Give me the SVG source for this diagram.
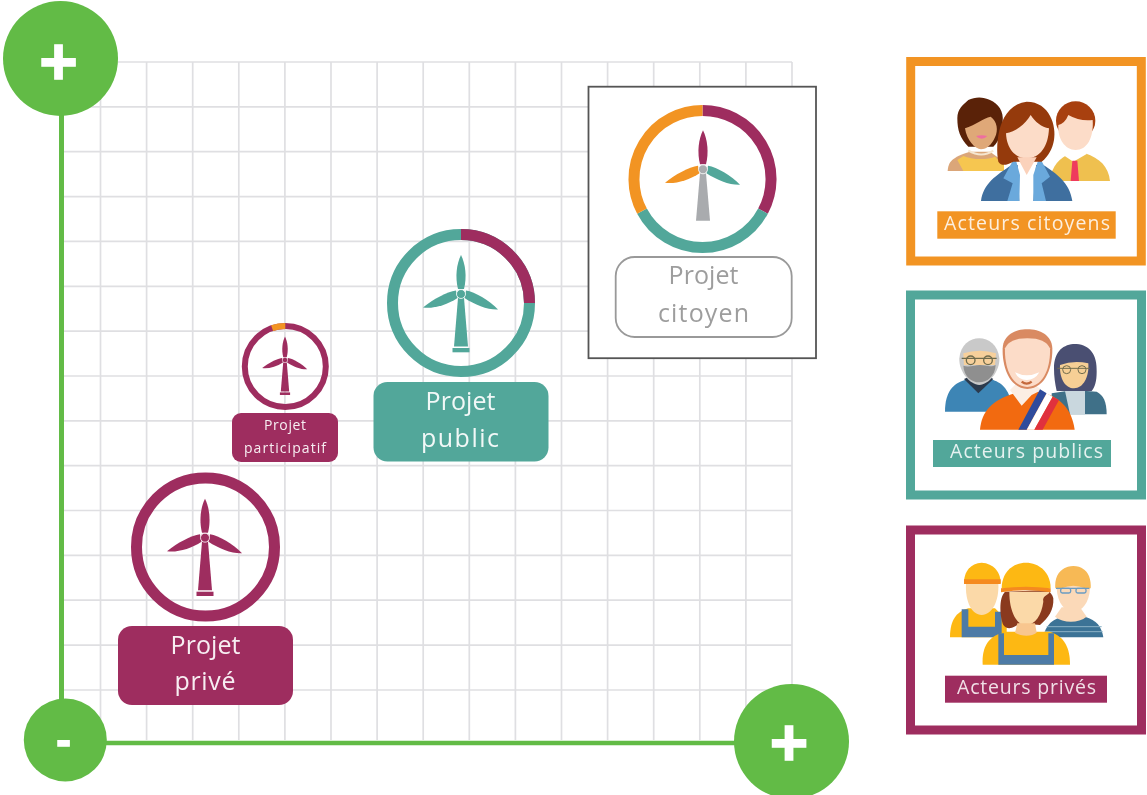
<svg xmlns="http://www.w3.org/2000/svg" width="1147" height="795" viewBox="0 0 1147 795">
<style>
text{font-family:"Open Sans","Liberation Sans",Arial,sans-serif;text-anchor:middle}
.grid line{stroke:#dfdfe2;stroke-width:1.7}
.axis{stroke:#62bb46;fill:none}
.pm{fill:#fff;font-family:"Liberation Sans",Arial,sans-serif;font-weight:700;font-size:66px;stroke:#fff;stroke-width:1.4}
.ring{fill:none;stroke-width:11}
.lbl{fill:#fff;font-size:25px;opacity:.92}
.act{fill:#fff;font-size:19.5px;opacity:.85}
.frame{fill:#fff;stroke-width:9}
</style>
<defs>
<filter id="soft" filterUnits="userSpaceOnUse" x="0" y="0" width="1147" height="795" color-interpolation-filters="sRGB"><feGaussianBlur stdDeviation="0.65"/></filter>
<path id="bu" d="M0,-39C4.5,-30 6,-17 3,-5L-3,-5C-6,-17 -4.5,-30 0,-39Z"/>
<path id="bl" d="M-38,13.5C-28,5 -14,-2 -5,-3.5L-3.5,4C-14,11 -28,15 -38,13.5Z"/>
<path id="br" d="M37,15.5C28,6 14,-2 5,-3.5L3.5,4C14,11 27,16 37,15.5Z"/>
<g id="turbine"><use href="#bu"/><use href="#bl"/><use href="#br"/><path d="M-3,4L3,4L7,52.5L-7,52.5Z"/><rect x="-8.5" y="54" width="17" height="4.3"/><circle r="4.5" stroke="#fff" stroke-width=".8"/></g>
</defs>
<rect width="1147" height="795" fill="#fff"/>
<g filter="url(#soft)">
<g id="grid" class="grid">
<line x1="100.5" y1="62" x2="100.5" y2="740"/><line x1="146.6" y1="62" x2="146.6" y2="740"/><line x1="192.7" y1="62" x2="192.7" y2="740"/><line x1="238.8" y1="62" x2="238.8" y2="740"/><line x1="284.9" y1="62" x2="284.9" y2="740"/><line x1="331" y1="62" x2="331" y2="740"/><line x1="377.1" y1="62" x2="377.1" y2="740"/><line x1="423.2" y1="62" x2="423.2" y2="740"/><line x1="469.3" y1="62" x2="469.3" y2="740"/><line x1="515.4" y1="62" x2="515.4" y2="740"/><line x1="561.5" y1="62" x2="561.5" y2="740"/><line x1="607.6" y1="62" x2="607.6" y2="740"/><line x1="653.7" y1="62" x2="653.7" y2="740"/><line x1="699.8" y1="62" x2="699.8" y2="740"/><line x1="745.9" y1="62" x2="745.9" y2="740"/><line x1="792" y1="62" x2="792" y2="740"/>
<line x1="62" y1="62" x2="792" y2="62"/><line x1="62" y1="106.9" x2="792" y2="106.9"/><line x1="62" y1="151.7" x2="792" y2="151.7"/><line x1="62" y1="196.6" x2="792" y2="196.6"/><line x1="62" y1="241.4" x2="792" y2="241.4"/><line x1="62" y1="286.3" x2="792" y2="286.3"/><line x1="62" y1="331.1" x2="792" y2="331.1"/><line x1="62" y1="376" x2="792" y2="376"/><line x1="62" y1="420.8" x2="792" y2="420.8"/><line x1="62" y1="465.7" x2="792" y2="465.7"/><line x1="62" y1="510.5" x2="792" y2="510.5"/><line x1="62" y1="555.4" x2="792" y2="555.4"/><line x1="62" y1="600.2" x2="792" y2="600.2"/><line x1="62" y1="645.1" x2="792" y2="645.1"/><line x1="62" y1="690" x2="792" y2="690"/>
</g>
<g id="connectors">
<line class="axis" x1="61.5" y1="100" x2="61.5" y2="720" stroke-width="5"/>
<line class="axis" x1="90" y1="743" x2="760" y2="743" stroke-width="4.5"/>
</g>
<g id="axis-y-plus"><circle cx="60.5" cy="58.5" r="57.5" fill="#62bb46"/><text class="pm" x="58.5" y="84">+</text></g>
<g id="axis-origin-minus"><circle cx="65.3" cy="740" r="41.5" fill="#62bb46"/><text class="pm" style="font-size:44px" x="63.5" y="755">-</text></g>
<g id="axis-x-plus"><circle cx="791.5" cy="741.5" r="57.5" fill="#62bb46"/><text class="pm" x="789" y="765">+</text></g>

<g id="projet-prive">
<circle class="ring" cx="205.5" cy="547" r="69" stroke="#9e2d5f"/>
<use href="#turbine" transform="translate(205,537.7)" fill="#9e2d5f"/>
<rect x="118" y="626" width="175" height="79" rx="14" fill="#9e2d5f"/>
<text class="lbl" x="205.5" y="654" textLength="70">Projet</text><text class="lbl" x="205" y="690" textLength="61">privé</text>
</g>
<g id="projet-participatif">
<circle cx="285.3" cy="366.5" r="40.5" fill="none" stroke="#9e2d5f" stroke-width="6"/>
<path d="M285.3,326A40.5,40.5 0 0 0 272.1,328.2" fill="none" stroke="#f29423" stroke-width="6"/>
<use href="#turbine" transform="translate(285,360) scale(.6)" fill="#9e2d5f"/>
<rect x="232" y="413" width="106" height="49" rx="9" fill="#9e2d5f"/>
<text class="lbl" style="font-size:14px" x="285" y="430" textLength="42">Projet</text><text class="lbl" style="font-size:14px" x="285" y="453" textLength="82">participatif</text>
</g>
<g id="projet-public">
<circle class="ring" cx="461" cy="303" r="68.5" stroke="#52a79a"/>
<path class="ring" d="M461,234.5A68.5,68.5 0 0 1 529.5,303" stroke="#9e2d5f"/>
<use href="#turbine" transform="translate(461,294)" fill="#52a79a"/>
<rect x="373.5" y="382" width="175" height="79.5" rx="14" fill="#52a79a"/>
<text class="lbl" x="460.5" y="410" textLength="70">Projet</text><text class="lbl" x="460" y="447" textLength="78">public</text>
</g>
<g id="projet-citoyen">
<rect x="588.5" y="86.7" width="227.5" height="271.5" fill="#fff" stroke="#555" stroke-width="1.8"/>
<path class="ring" d="M702.5,110.5A68.5,68.5 0 0 1 763,211.2" stroke="#9e2d5f"/>
<path class="ring" d="M763,211.2A68.5,68.5 0 0 1 642,211.2" stroke="#52a79a"/>
<path class="ring" d="M642,211.2A68.5,68.5 0 0 1 702.5,110.5" stroke="#f29423"/>
<g transform="translate(703,169.3)">
<use href="#bu" fill="#9e2d5f"/><use href="#bl" fill="#f29423"/><use href="#br" fill="#52a79a"/>
<path d="M-3,4L3,4L7,51.5L-7,51.5Z" fill="#a9abae"/><circle r="4.5" fill="#a9abae" stroke="#fff" stroke-width=".8"/>
</g>
<rect x="615.7" y="257" width="176" height="80" rx="19" fill="#fff" stroke="#999" stroke-width="1.8"/>
<text class="lbl" style="fill:#959595" x="703.5" y="284" textLength="70">Projet</text><text class="lbl" style="fill:#959595" x="703.5" y="322" textLength="91">citoyen</text>
</g>

<g id="acteurs-citoyens">
<rect class="frame" x="910.7" y="61.5" width="230.6" height="199.5" stroke="#f29423"/>
<g transform="translate(900,50) scale(.33333)">
<path d="M143,363C145,335 155,322 210,305L270,305L312,335L312,363Z" fill="#dba679"/>
<path d="M172,330L190,363L312,363L312,345L285,320C265,330 215,330 190,318Z" fill="#f6c650"/>
<path d="M172,205C172,175 190,165 205,150C225,140 250,140 270,150C295,160 312,185 308,215C305,245 300,270 280,290L205,290C180,265 172,240 172,205Z" fill="#5a2208"/>
<path d="M195,235C225,225 250,205 272,200C292,215 295,240 285,262C275,285 260,298 243,298C225,298 200,270 195,235Z" fill="#dfa878"/>
<path d="M228,258Q245,254 262,258Q245,275 228,258Z" fill="#ee6fa0"/>
<path d="M205,302Q245,325 280,302" fill="none" stroke="#f5e6d0" stroke-width="6"/>
<path d="M450,393C455,345 480,325 510,310L555,310C600,325 625,350 630,393Z" fill="#efc04f"/>
<path d="M485,312L520,335L560,312L555,298L495,298Z" fill="#fff"/>
<path d="M517,332L532,332L537,393L512,393Z" fill="#ef3a5d"/>
<ellipse cx="527" cy="212" rx="59" ry="58" fill="#a8400f"/>
<path d="M475,225Q495,220 505,195Q540,215 578,210C582,265 560,300 527,300C495,300 472,265 475,225Z" fill="#fcdcc8"/>
<path d="M243,453C250,400 290,375 335,345L430,345C470,370 510,400 517,453Z" fill="#3f6f9f"/>
<path d="M352,322L410,322L400,453L358,453Z" fill="#fff"/>
<path d="M345,320L360,375L358,453L322,453L338,400L310,385Z" fill="#6aa9dc"/>
<path d="M418,320L400,375L400,453L438,453L425,400L450,380Z" fill="#6aa9dc"/>
<path d="M295,335C285,280 295,165 380,155C450,155 470,230 462,270C458,295 445,320 425,335L340,335C320,345 305,350 295,335Z" fill="#953a0c"/>
<path d="M318,250C345,245 375,225 392,195C405,215 425,232 447,235C445,290 420,325 380,325C345,325 320,295 318,250Z" fill="#fcdcc8"/>
<path d="M352,322L410,322L380,375Z" fill="#fbd2bb"/>
</g>
<rect x="937.3" y="211.3" width="178.4" height="27.4" fill="#f29423"/>
<text class="act" x="1027" y="230" textLength="166">Acteurs citoyens</text>
</g>

<g id="acteurs-publics">
<rect class="frame" x="910.5" y="295" width="231" height="200" stroke="#52a79a" stroke-width="8.5"/>
<g transform="translate(900,285) scale(.33333)">
<path d="M135,380C135,320 160,295 195,285L280,285C305,295 330,310 340,380Z" fill="#3d85b5"/>
<path d="M192,282L235,325L280,282L262,272L215,272Z" fill="#2b3a4d"/>
<path d="M178,220C185,140 290,140 298,220C300,260 265,300 238,300C210,300 176,260 178,220Z" fill="#c9c9c9"/>
<path d="M190,205Q240,190 288,205L285,240L192,240Z" fill="#f7d09b"/>
<path d="M190,242C205,248 225,240 240,240C255,240 272,248 287,240C285,275 260,292 238,292C215,292 192,275 190,242Z" fill="#8f8f8f"/>
<path d="M185,220H290" stroke="#6f6b4c" stroke-width="4"/><circle cx="212" cy="226" r="13" fill="none" stroke="#6f6b4c" stroke-width="4"/><circle cx="264" cy="226" r="13" fill="none" stroke="#6f6b4c" stroke-width="4"/>
<path d="M455,325L520,315L590,320C610,330 620,350 620,388L455,388Z" fill="#3f7088"/>
<path d="M495,318L555,318L555,388L510,388Z" fill="#c9d7de"/>
<path d="M462,250C462,195 495,175 530,177C570,180 592,210 590,260C590,290 585,305 575,318L470,318C465,295 462,275 462,250Z" fill="#4a4f72"/>
<path d="M480,240Q520,225 565,235C568,275 550,310 522,310C495,310 478,280 480,240Z" fill="#f6cf95"/>
<path d="M472,250H570" stroke="#6f6b4c" stroke-width="3"/><circle cx="500" cy="254" r="12" fill="none" stroke="#6f6b4c" stroke-width="3"/><circle cx="546" cy="254" r="12" fill="none" stroke="#6f6b4c" stroke-width="3"/>
<path d="M240,434C245,380 275,345 345,325L420,320C480,335 515,370 524,434Z" fill="#f26a10"/>
<path d="M330,315L365,362L395,330L425,315L400,295L350,295Z" fill="#fbeee4"/>
<path d="M420,313L355,434L380,434L440,325Z" fill="#2f4b9c"/>
<path d="M440,325L380,434L403,434L458,335Z" fill="#fff"/>
<path d="M458,335L403,434L428,434L477,345Z" fill="#e0313d"/>
<path d="M308,190C310,150 345,133 382,133C420,133 455,150 457,190C458,240 440,310 382,312C325,310 306,240 308,190Z" fill="#d98a62"/>
<path d="M315,190C325,170 345,160 382,160C420,160 440,170 450,190C452,240 435,304 382,306C330,304 313,240 315,190Z" fill="#fcdcc8"/>
<path d="M345,262Q380,280 418,262Q405,285 380,285Q355,285 345,262Z" fill="#fff"/>
<path d="M365,290Q380,302 395,290" fill="none" stroke="#c4693c" stroke-width="7"/>
</g>
<rect x="933" y="440" width="178" height="27" fill="#52a79a"/>
<text class="act" x="1026.5" y="458" textLength="153">Acteurs publics</text>
</g>

<g id="acteurs-prives">
<rect class="frame" x="910.5" y="530" width="231" height="200" stroke="#9e2d5f" stroke-width="8.5"/>
<g transform="translate(900,520) scale(.33333)">
<path d="M150,352C150,300 170,275 205,265L285,265L320,300L320,352Z" fill="#fdb813"/>
<path d="M185,268L205,268L205,320L285,320L285,275L305,275L305,352L185,352Z" fill="#4d7ba6"/>
<path d="M198,190L295,190C298,245 275,285 245,285C215,285 195,245 198,190Z" fill="#fbd9a8"/>
<path d="M192,190C192,150 215,130 245,128C280,130 302,155 302,190Z" fill="#fdb813"/>
<path d="M192,178H302V192H192Z" fill="#f58a1f"/>
<path d="M430,352C435,315 460,295 490,290L555,290C590,300 605,320 610,352Z" fill="#3c7396"/>
<path d="M440,320H605M435,335H608" stroke="#8db3c8" stroke-width="3"/>
<path d="M465,290C490,310 535,310 560,290L540,262L485,262Z" fill="#fbd9b8"/>
<path d="M470,205C470,170 490,140 520,140C555,140 572,170 570,205C568,250 545,275 520,275C495,275 472,250 470,205Z" fill="#fbd9b8"/>
<path d="M466,205C462,160 490,138 520,138C555,138 575,165 572,205L555,205Q520,190 485,205Z" fill="#f7b955"/>
<path d="M468,205H568" stroke="#6b9cc2" stroke-width="4"/><rect x="482" y="205" width="30" height="14" rx="5" fill="none" stroke="#6b9cc2" stroke-width="4"/><rect x="528" y="205" width="30" height="14" rx="5" fill="none" stroke="#6b9cc2" stroke-width="4"/>
<path d="M248,434C245,380 265,345 320,335L450,335C495,350 510,385 510,434Z" fill="#fdb813"/>
<path d="M295,340L312,340L312,405L445,405L445,340L462,340L462,434L295,434Z" fill="#4d7ba6"/>
<path d="M315,215C295,235 300,290 310,315C325,335 345,320 360,310L420,315C445,295 462,270 460,235C458,225 450,215 440,210Z" fill="#8a3a1e"/>
<path d="M328,215L448,215C450,225 425,225 430,245C425,285 405,315 378,315C350,315 328,275 328,215Z" fill="#fbd9a8"/>
<path d="M352,310L405,310L410,338C395,350 365,350 345,338Z" fill="#f8c68f"/>
<path d="M305,205C305,160 335,128 378,128C420,128 452,160 452,205Z" fill="#fdb813"/>
<path d="M303,205Q378,195 452,205V217Q378,205 303,217Z" fill="#f58a1f"/>
</g>
<rect x="945" y="675.7" width="162" height="27" fill="#9e2d5f"/>
<text class="act" x="1026.5" y="694" textLength="139">Acteurs privés</text>
</g>
</g>
</svg>
